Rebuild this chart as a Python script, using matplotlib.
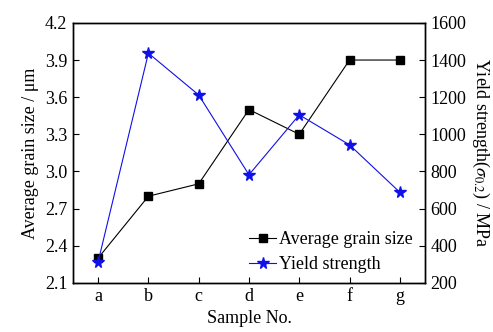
import matplotlib

matplotlib.use("Agg")
import matplotlib.pyplot as plt

samples = ["a", "b", "c", "d", "e", "f", "g"]
grain_size = [2.3, 2.8, 2.9, 3.5, 3.3, 3.9, 3.9]
yield_strength = [313, 1437, 1212, 782, 1105, 943, 688]

plt.rcParams["font.family"] = ["Liberation Serif", "DejaVu Serif"]
plt.rcParams["mathtext.fontset"] = "stix"

fig = plt.figure(figsize=(4.93, 3.32), dpi=100)
ax1 = fig.add_axes([0.148, 0.148, 0.714, 0.783])
ax2 = ax1.twinx()

x = list(range(len(samples)))
l1, = ax1.plot(x, grain_size, color="black", lw=0.8, marker="s", ms=6,
               label="Average grain size")
l2, = ax2.plot(x, yield_strength, color="#1010e8", lw=0.8, marker="*", ms=8.5,
               label="Yield strength")

ax1.set_xlim(-0.5, 6.5)
ax1.set_ylim(2.1, 4.2)
ax1.set_yticks([2.1, 2.4, 2.7, 3.0, 3.3, 3.6, 3.9, 4.2])
ax2.set_ylim(200, 1600)
ax2.set_yticks(range(200, 1601, 200))
ax1.set_xticks(x)
ax1.set_xticklabels(samples)

for ax in (ax1, ax2):
    ax.tick_params(direction="in", length=4, width=0.8, labelsize=13, pad=4)
    for s in ax.spines.values():
        s.set_linewidth(1.0)

ax1.set_xlabel("Sample No.", fontsize=13, labelpad=3)
ax1.set_ylabel("Average grain size / μm", fontsize=13, labelpad=4)
ax2.set_ylabel(r"Yield strength($\sigma_{0.2}$) / MPa", fontsize=13,
               rotation=270, labelpad=18)

ax1.legend([l1, l2], ["Average grain size", "Yield strength"],
           loc="upper left", bbox_to_anchor=(0.5, 0.2), frameon=False,
           fontsize=13, handlelength=1.5, handletextpad=0.15,
           labelspacing=0.45, borderpad=0, borderaxespad=0)

fig.savefig("out.png", dpi=100)
